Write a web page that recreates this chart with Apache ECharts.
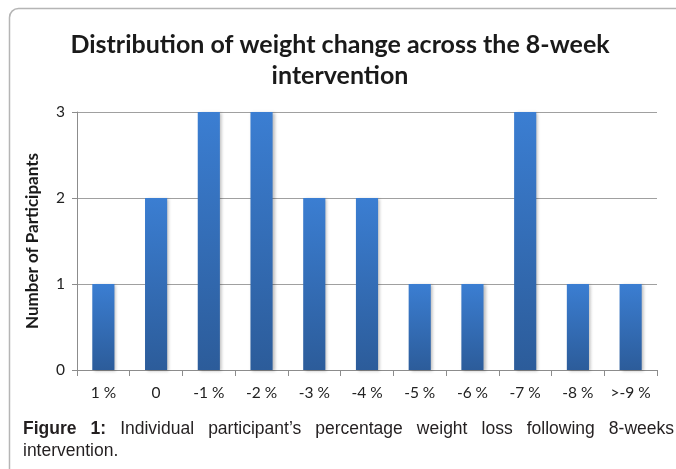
<!DOCTYPE html>
<html>
<head>
<meta charset="utf-8">
<script src="https://cdn.jsdelivr.net/npm/echarts@6/dist/echarts.min.js"></script>
<style>
html,body{margin:0;padding:0;background:#fff;}
#chart{width:676px;height:469px;}
</style>
</head>
<body>
<div id="chart"></div>
<script>
// Data
const categories = ['1 %', '0', '-1 %', '-2 %', '-3 %', '-4 %', '-5 %', '-6 %', '-7 %', '-8 %', '>-9 %'];
const participants = [1, 2, 3, 3, 2, 2, 1, 1, 3, 1, 1];
const yTicks = [0, 1, 2, 3];
const titleLines = ['Distribution of weight change across the 8-week', 'intervention'];
const yAxisName = 'Number of Participants';
const captionBold = 'Figure 1:';
const captionLine1 = 'Individual participant\u2019s percentage weight loss following 8-weeks';
const captionLine2 = 'intervention.';

const chart = echarts.init(document.getElementById('chart'), null, {renderer: 'canvas'});

// Justify caption first line word by word
const ctx = document.createElement('canvas').getContext('2d');
const capFont = '17.5px "Liberation Sans", Arial, sans-serif';
const capFontBold = 'bold 17.5px "Liberation Sans", Arial, sans-serif';
const words = captionBold.split(' ').map(w => ({t: w, b: true}))
  .concat(captionLine1.split(' ').map(w => ({t: w, b: false})));
let total = 0;
words.forEach(w => { ctx.font = w.b ? capFontBold : capFont; w.w = ctx.measureText(w.t).width; total += w.w; });
const capLeft = 23, capRight = 674;
const gap = (capRight - capLeft - total) / (words.length - 1);
let cx = capLeft;
const captionEls = words.map(w => {
  const el = {
    type: 'text', left: cx, top: 420,
    style: {text: w.t, font: w.b ? capFontBold : capFont, fill: '#231f20'}
  };
  cx += w.w + gap;
  return el;
});
captionEls.push({type: 'text', left: capLeft, top: 442,
  style: {text: captionLine2, font: capFont, fill: '#231f20'}});

const option = {
  animation: false,
  backgroundColor: '#fff',
  title: [
    {text: titleLines[0], left: 335, top: 27, textAlign: 'center',
     textStyle: {fontFamily: 'Lato', fontWeight: 'bold', fontSize: 25, color: '#1a1a1a'}},
    {text: titleLines[1], left: 335, top: 58, textAlign: 'center',
     textStyle: {fontFamily: 'Lato', fontWeight: 'bold', fontSize: 25, color: '#1a1a1a'}}
  ],
  grid: {left: 77, right: 19, top: 112, bottom: 99, containLabel: false},
  xAxis: {
    type: 'category',
    data: categories,
    boundaryGap: true,
    axisLine: {show: true, lineStyle: {color: '#8c8c8c', width: 1}},
    axisTick: {show: true, alignWithLabel: false, length: 6, lineStyle: {color: '#8c8c8c'}},
    axisLabel: {color: '#222', fontFamily: 'Lato', fontSize: 15.5, margin: 15}
  },
  yAxis: {
    type: 'value',
    min: yTicks[0], max: yTicks[yTicks.length - 1], interval: 1,
    name: yAxisName,
    nameLocation: 'middle',
    nameGap: 36,
    nameTextStyle: {fontFamily: 'Lato', fontWeight: 'bold', fontSize: 17, color: '#1a1a1a'},
    axisLine: {show: true, lineStyle: {color: '#8c8c8c', width: 1}},
    axisTick: {show: true, length: 5, lineStyle: {color: '#8c8c8c'}},
    axisLabel: {color: '#222', fontFamily: 'Lato', fontSize: 15.5, margin: 12},
    splitLine: {show: true, lineStyle: {color: '#a0a0a0', width: 1}}
  },
  series: [{
    type: 'bar',
    data: participants,
    barWidth: '42%',
    itemStyle: {
      color: new echarts.graphic.LinearGradient(0, 0, 0, 1, [
        {offset: 0, color: '#3b7ed2'},
        {offset: 1, color: '#2c5c9a'}
      ]),
      shadowColor: 'rgba(0,0,0,0.25)', shadowBlur: 3, shadowOffsetX: 2, shadowOffsetY: 1
    }
  }],
  graphic: [
    {type: 'rect', shape: {x: 9.5, y: 8.5, width: 720, height: 520, r: 9},
     style: {fill: 'none', stroke: '#b5b5b5', lineWidth: 1.5}, z: -1}
  ].concat(captionEls)
};
chart.setOption(option);
</script>
</body>
</html>
